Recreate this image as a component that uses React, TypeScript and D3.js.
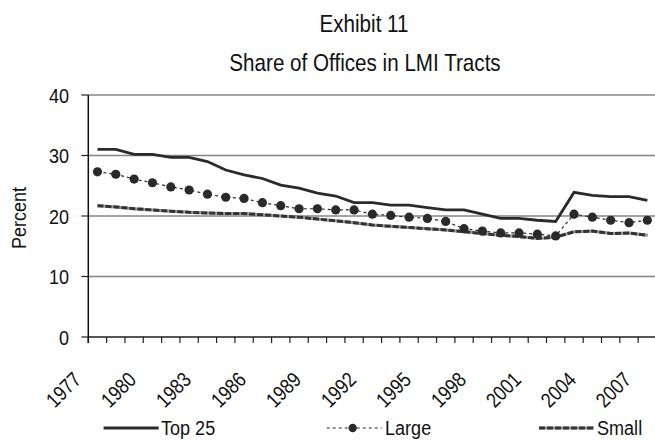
import React from "react";
import * as d3 from "d3";

const years: number[] = [
  1977, 1978, 1979, 1980, 1981, 1982, 1983, 1984, 1985, 1986, 1987, 1988, 1989, 1990, 1991, 1992,
  1993, 1994, 1995, 1996, 1997, 1998, 1999, 2000, 2001, 2002, 2003, 2004, 2005, 2006, 2007,
];
const top25: number[] = [
  31.0, 31.0, 30.2, 30.2, 29.7, 29.7, 29.0, 27.6, 26.8, 26.2, 25.1, 24.6, 23.8, 23.3, 22.2, 22.2,
  21.8, 21.8, 21.4, 21.0, 21.0, 20.3, 19.6, 19.6, 19.3, 19.1, 23.9, 23.4, 23.2, 23.2, 22.6,
];
const large: number[] = [
  27.3, 26.9, 26.1, 25.5, 24.8, 24.3, 23.6, 23.1, 22.9, 22.2, 21.7, 21.2, 21.2, 21.0, 21.0, 20.3,
  20.1, 19.8, 19.6, 19.1, 17.9, 17.5, 17.2, 17.2, 17.0, 16.7, 20.3, 19.8, 19.3, 18.9, 19.3,
];
const small: number[] = [
  21.7, 21.5, 21.2, 21.0, 20.8, 20.6, 20.5, 20.4, 20.4, 20.2, 20.0, 19.8, 19.5, 19.2, 18.9, 18.5,
  18.3, 18.1, 17.9, 17.7, 17.4, 17.1, 16.8, 16.6, 16.3, 16.5, 17.4, 17.5, 17.1, 17.2, 16.8,
];
const yTicks: number[] = [0, 10, 20, 30, 40];
const labelYears: number[] = [1977, 1980, 1983, 1986, 1989, 1992, 1995, 1998, 2001, 2004, 2007];
const title1 = "Exhibit 11";
const title2 = "Share of Offices in LMI Tracts";
const yTitle = "Percent";
const seriesNames = ["Top 25", "Large", "Small"];

const FONT = "'Liberation Sans', Arial, sans-serif";
const INK = "#2a2a2a";
const SX = 0.86;

function T(props: {
  x: number;
  y: number;
  size: number;
  anchor?: string;
  rotate?: number;
  dy?: string;
  sx?: number;
  children: React.ReactNode;
}) {
  const { x, y, size, anchor = "start", rotate = 0, dy, sx = SX, children } = props;
  return (
    <text
      transform={`translate(${x},${y})${rotate ? ` rotate(${rotate})` : ""} scale(${sx},1)`}
      textAnchor={anchor}
      fontSize={size}
      dy={dy}
      fill="#111"
    >
      {children}
    </text>
  );
}

export default function App() {
  const W = 655;
  const H = 440;
  const left = 88.3;
  const right = 656.5;
  const top = 95;
  const bottom = 337;

  const x = d3.scaleBand<number>().domain(years).range([left, right]).padding(0);
  const cx = (yr: number) => (x(yr) as number) + x.bandwidth() / 2;
  const y = d3.scaleLinear().domain([0, 40]).range([bottom, top]);

  const line = d3
    .line<number>()
    .x((_, i) => cx(years[i]))
    .y((d) => y(d));

  const tickXs = years.map((yr) => x(yr) as number).concat([right]);

  return (
    <svg
      width={W}
      height={H}
      style={{ position: "absolute", left: 0, top: 0, background: "#fff" }}
      fontFamily={FONT}
    >
      <rect x={0} y={0} width={W} height={H} fill="#fff" />
      <T x={364} y={32} size={24} anchor="middle">
        {title1}
      </T>
      <T x={365} y={70.5} size={24} anchor="middle">
        {title2}
      </T>

      {yTicks
        .filter((t) => t > 0)
        .map((t) => (
          <line key={t} x1={left} x2={W} y1={y(t)} y2={y(t)} stroke="#858585" strokeWidth={1.6} />
        ))}
      {yTicks.map((t) => (
        <g key={"yt" + t}>
          <line x1={left - 7} x2={left} y1={y(t)} y2={y(t)} stroke="#222" strokeWidth={1.2} />
          <T x={69} y={y(t)} dy="0.36em" size={21} anchor="end">
            {t}
          </T>
        </g>
      ))}
      <T x={26} y={(top + bottom) / 2 + 2} size={21} anchor="middle" rotate={-90}>
        {yTitle}
      </T>

      <line x1={left} x2={W} y1={bottom} y2={bottom} stroke="#555" strokeWidth={2} />
      {tickXs.map((tx, i) => (
        <line key={"xt" + i} x1={tx} x2={tx} y1={bottom} y2={bottom + 6} stroke="#222" strokeWidth={1.2} />
      ))}
      <line x1={left} x2={left} y1={top} y2={bottom + 6} stroke="#111" strokeWidth={1.5} />
      {labelYears.map((yr) => (
        <T key={"xl" + yr} x={cx(yr) - 15} y={381} size={21} sx={0.84} anchor="end" rotate={-45}>
          {yr}
        </T>
      ))}

      <path d={line(small) || ""} fill="none" stroke="#999" strokeWidth={3} />
      <path d={line(small) || ""} fill="none" stroke="#333" strokeWidth={3} strokeDasharray="6,2" />
      <path d={line(large) || ""} fill="none" stroke={INK} strokeWidth={1.2} strokeDasharray="3,3" />
      {large.map((v, i) => (
        <circle key={"d" + i} cx={cx(years[i])} cy={y(v)} r={4.6} fill={INK} />
      ))}
      <path d={line(top25) || ""} fill="none" stroke={INK} strokeWidth={2.8} />

      <line x1={103.6} x2={158.7} y1={428} y2={428} stroke={INK} strokeWidth={2.8} />
      <T x={161} y={435} size={21}>
        {seriesNames[0]}
      </T>
      <line x1={326.7} x2={381.7} y1={428} y2={428} stroke={INK} strokeWidth={1.2} strokeDasharray="3,3" />
      <circle cx={352.7} cy={428} r={4.2} fill={INK} />
      <T x={385} y={435} size={21}>
        {seriesNames[1]}
      </T>
      <line x1={539} x2={594} y1={428} y2={428} stroke="#999" strokeWidth={3} />
      <line x1={539} x2={594} y1={428} y2={428} stroke="#333" strokeWidth={3} strokeDasharray="6,2" />
      <T x={597} y={435} size={21}>
        {seriesNames[2]}
      </T>
    </svg>
  );
}
